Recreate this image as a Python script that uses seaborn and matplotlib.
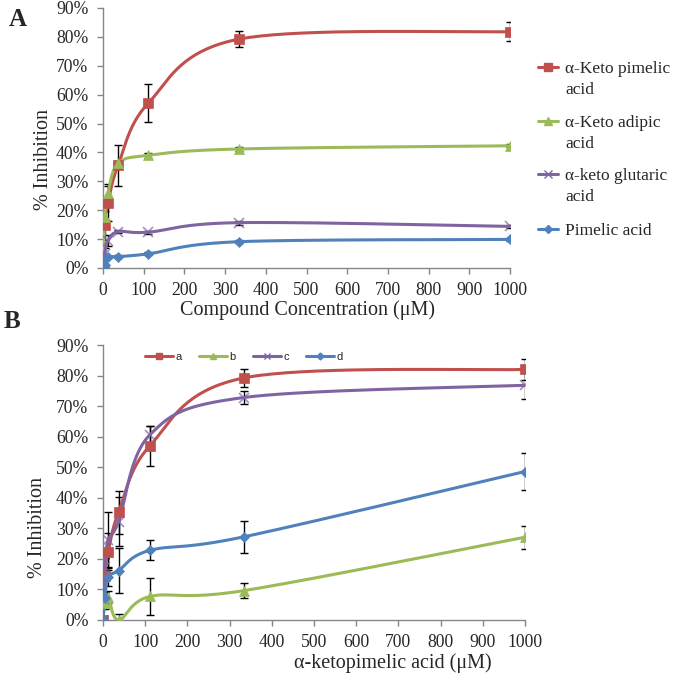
import numpy as np
import pandas as pd
import matplotlib
matplotlib.use("Agg")
import matplotlib.pyplot as plt
from matplotlib.lines import Line2D
import seaborn as sns

# concentrations (uM), 3-fold dilutions
conc = [0, 4.1, 12.3, 37, 111, 333, 1000]

# panel A: % inhibition by compound
a_names = ["α-Keto pimelic\nacid", "α-Keto adipic\nacid", "α-keto glutaric\nacid", "Pimelic acid"]
a_keto_pimelic = [0, 14.8, 22.4, 35.5, 57.0, 79.2, 81.8]
a_keto_pimelic_err = [0, 5.0, 6.0, 7.0, 6.6, 2.8, 3.2]
a_keto_adipic = [0, 17.8, 26.0, 36.2, 39.0, 41.2, 42.3]
a_keto_adipic_err = [0, 3.0, 3.0, 1.0, 0.8, 0.8, 0.5]
a_keto_glutaric = [0, 5.0, 9.5, 12.6, 12.4, 15.7, 14.4]
a_keto_glutaric_err = [0, 2.0, 2.0, 0.5, 0.5, 0.7, 0.5]
a_pimelic = [0, 1.0, 3.8, 3.9, 4.9, 9.1, 9.9]
a_pimelic_err = [0, 0.5, 0.5, 0.5, 0.5, 0.6, 0.4]

# panel B: series a-d
b_names = ["a", "b", "c", "d"]
b_a = [0, 14.4, 22.4, 35.3, 57.0, 79.2, 82.0]
b_a_err = [0, 6.0, 6.0, 7.0, 6.6, 2.8, 3.4]
b_b = [0, 5.5, 7.5, 0, 7.7, 9.6, 27.1]
b_b_err = [0, 2.0, 2.0, 2.0, 6.0, 2.5, 3.8]
b_c = [0, 17.2, 26.2, 32.2, 60.6, 72.8, 76.8]
b_c_err = [0, 3.0, 9.0, 8.0, 3.0, 2.0, 4.5]
b_d = [0, 7.2, 14.0, 16.2, 22.8, 27.2, 48.6]
b_d_err = [0, 2.0, 3.0, 7.5, 3.3, 5.2, 5.9]

colors = ["#C0504D", "#9BBB59", "#8064A2", "#4F81BD"]
markers = ["s", "^", "x", "D"]
msizes = [7, 7, 7, 5.5]

sns.set_theme(style="white")
plt.rcParams["font.family"] = ["Liberation Serif", "DejaVu Serif"]


def smooth(x, y, sx, sy, n=40):
    # Excel-style smoothed line (Catmull-Rom bezier in screen space)
    p = np.column_stack([np.asarray(x, float) * sx, np.asarray(y, float) * sy])
    out = []
    for i in range(len(p) - 1):
        p0 = p[i - 1] if i > 0 else p[i]
        p3 = p[i + 2] if i + 2 < len(p) else p[i + 1]
        c1 = p[i] + (p[i + 1] - p0) / 6
        c2 = p[i + 1] - (p3 - p[i]) / 6
        t = np.linspace(0, 1, n)[:, None]
        seg = ((1 - t) ** 3) * p[i] + 3 * ((1 - t) ** 2) * t * c1 + 3 * (1 - t) * t ** 2 * c2 + t ** 3 * p[i + 1]
        out.append(seg if i == 0 else seg[1:])
    out = np.vstack(out)
    return out[:, 0] / sx, out[:, 1] / sy


def draw_panel(ax, series, errs, wpx, hpx):
    for k, (vals, err) in enumerate(zip(series, errs)):
        sxs, sys_ = smooth(conc, vals, wpx / 1000, hpx / 90)
        sns.lineplot(x=sxs, y=sys_, sort=False, estimator=None, ax=ax,
                     color=colors[k], lw=2.2, zorder=3)
        ax.errorbar(conc, vals, yerr=err, fmt="none", ecolor="black",
                    elinewidth=1.0, capsize=3, capthick=1.0, zorder=2)
        ax.plot(conc, vals, ls="none", marker=markers[k], ms=msizes[k],
                color=colors[k], mec=colors[k], mew=1.2 if markers[k] == "x" else 0.5,
                zorder=4, alpha=1 if markers[k] != "x" else 0.7)
    ax.set_xlim(0, 1000)
    ax.set_ylim(0, 90)
    ax.set_xticks(range(0, 1001, 100))
    ax.set_yticks(range(0, 91, 10))
    ax.set_yticklabels([f"{v}%" for v in range(0, 91, 10)])
    for s in ["top", "right"]:
        ax.spines[s].set_visible(False)
    for s in ["left", "bottom"]:
        ax.spines[s].set_color("#868686")
        ax.spines[s].set_linewidth(1.0)
    ax.tick_params(axis="both", direction="out", length=4, width=1, color="#868686",
                   labelsize=12.7, left=True, bottom=True)
    ax.tick_params(axis="y", pad=6.5)
    ax.tick_params(axis="x", pad=6)
    ax.set_xlabel("")
    ax.set_ylabel("")
    ax.set_facecolor("white")


W, H = 675, 676
fig = plt.figure(figsize=(W / 100, H / 100), dpi=100)
fig.patch.set_facecolor("white")

axA = fig.add_axes([103 / W, 1 - 268 / H, 407 / W, 260 / H])
draw_panel(axA,
           [a_keto_pimelic, a_keto_adipic, a_keto_glutaric, a_pimelic],
           [a_keto_pimelic_err, a_keto_adipic_err, a_keto_glutaric_err, a_pimelic_err],
           407, 260)

axB = fig.add_axes([103 / W, 1 - 620 / H, 422 / W, 275 / H])
draw_panel(axB, [b_a, b_b, b_c, b_d], [b_a_err, b_b_err, b_c_err, b_d_err], 422, 275)

# panel A legend (handle aligned with first text line, as in Excel)
leg_y = [67, 121, 174, 229]
for k, name in enumerate(a_names):
    y = 1 - leg_y[k] / H
    fig.add_artist(Line2D([538 / W, 558 / W], [y, y], color=colors[k], lw=2.2))
    fig.add_artist(Line2D([548 / W], [y], color=colors[k], marker=markers[k],
                          ms=msizes[k] - 1, mec=colors[k], ls="none"))
    for j, line in enumerate(name.split("\n")):
        fig.text(565 / W, 1 - (leg_y[k] + 6 + 21 * j) / H, line,
                 ha="left", va="baseline", fontsize=12.5)

# panel B legend
handlesB = [Line2D([], [], color=colors[k], lw=2.2, marker=markers[k], ms=msizes[k] - 2,
                   mec=colors[k]) for k in range(4)]
legB = axB.legend(handlesB, b_names, loc="upper left", bbox_to_anchor=(32 / 422, 1.01),
                  ncol=4, frameon=False, handlelength=2.5, handletextpad=0.2,
                  columnspacing=1.6, prop={"family": "Liberation Sans", "size": 8})

# axis labels
fig.text(308 / W, 1 - 310 / H, "Compound Concentration (μM)", ha="center", va="center", fontsize=14.5)
fig.text(44 / W, 1 - 160 / H, "% Inhibition", ha="center", va="center", rotation=90, fontsize=14.5)
fig.text(393 / W, 1 - 663 / H, "α-ketopimelic acid (μM)", ha="center", va="center", fontsize=14.5)
fig.text(38 / W, 1 - 527 / H, "% Inhibition", ha="center", va="center", rotation=90, fontsize=14.5)

# panel letters
fig.text(18 / W, 1 - 19 / H, "A", ha="center", va="center", fontsize=18, fontweight="bold")
fig.text(12 / W, 1 - 322 / H, "B", ha="center", va="center", fontsize=18, fontweight="bold")

fig.savefig("out.png", dpi=100)
